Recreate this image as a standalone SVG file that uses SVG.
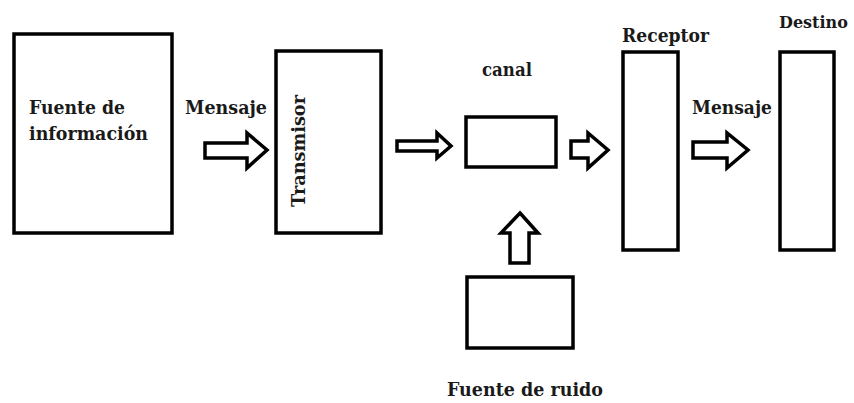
<svg xmlns="http://www.w3.org/2000/svg" width="854" height="403" viewBox="0 0 854 403">
<style>
.box{fill:#fff;stroke:#000;stroke-width:3.5}
.arr{fill:#fff;stroke:#000;stroke-width:3.5;stroke-linejoin:miter}
text{font-family:"DejaVu Serif","Liberation Serif",serif;font-size:19px;font-weight:bold;fill:#1a1a1a}
</style>
<rect width="854" height="403" fill="#fff"/>
<g id="fuente-informacion">
<rect class="box" x="14" y="34" width="158" height="199"/>
<text x="29" y="114" textLength="96" lengthAdjust="spacingAndGlyphs">Fuente de</text>
<text x="29" y="140" textLength="119" lengthAdjust="spacingAndGlyphs">información</text>
</g>
<g id="transmisor">
<rect class="box" x="276" y="51" width="105" height="182"/>
<text transform="translate(305,207) rotate(-90)" textLength="112" lengthAdjust="spacingAndGlyphs">Transmisor</text>
</g>
<g id="canal">
<rect class="box" x="466" y="117" width="90" height="50"/>
<text x="482" y="76" textLength="50" lengthAdjust="spacingAndGlyphs">canal</text>
</g>
<g id="receptor">
<rect class="box" x="623" y="52" width="55" height="198"/>
<text x="622" y="42" textLength="87" lengthAdjust="spacingAndGlyphs">Receptor</text>
</g>
<g id="destino">
<rect class="box" x="780" y="52" width="54" height="198"/>
<text x="779" y="28" style="font-size:16px">Destino</text>
</g>
<g id="fuente-ruido">
<rect class="box" x="467" y="277" width="106" height="71"/>
<text x="447" y="396" textLength="156" lengthAdjust="spacingAndGlyphs">Fuente de ruido</text>
</g>
<g id="connectors">
<polygon class="arr" points="205,143 247,143 247,133 267,150 247,168 247,158 205,158"/>
<text x="185" y="114" textLength="82" lengthAdjust="spacingAndGlyphs">Mensaje</text>
<polygon class="arr" points="397,141 437,141 437,133 451,146 437,158 437,151 397,151"/>
<polygon class="arr" points="571,141 588,141 588,133 608,150 588,168 588,158 571,158"/>
<polygon class="arr" points="693,142 727,142 727,133 748,150 727,168 727,158 693,158"/>
<text x="692" y="114" textLength="80" lengthAdjust="spacingAndGlyphs">Mensaje</text>
<polygon class="arr" points="520,213 538,233 529,233 529,263 510,263 510,233 501,233"/>
</g>
</svg>
